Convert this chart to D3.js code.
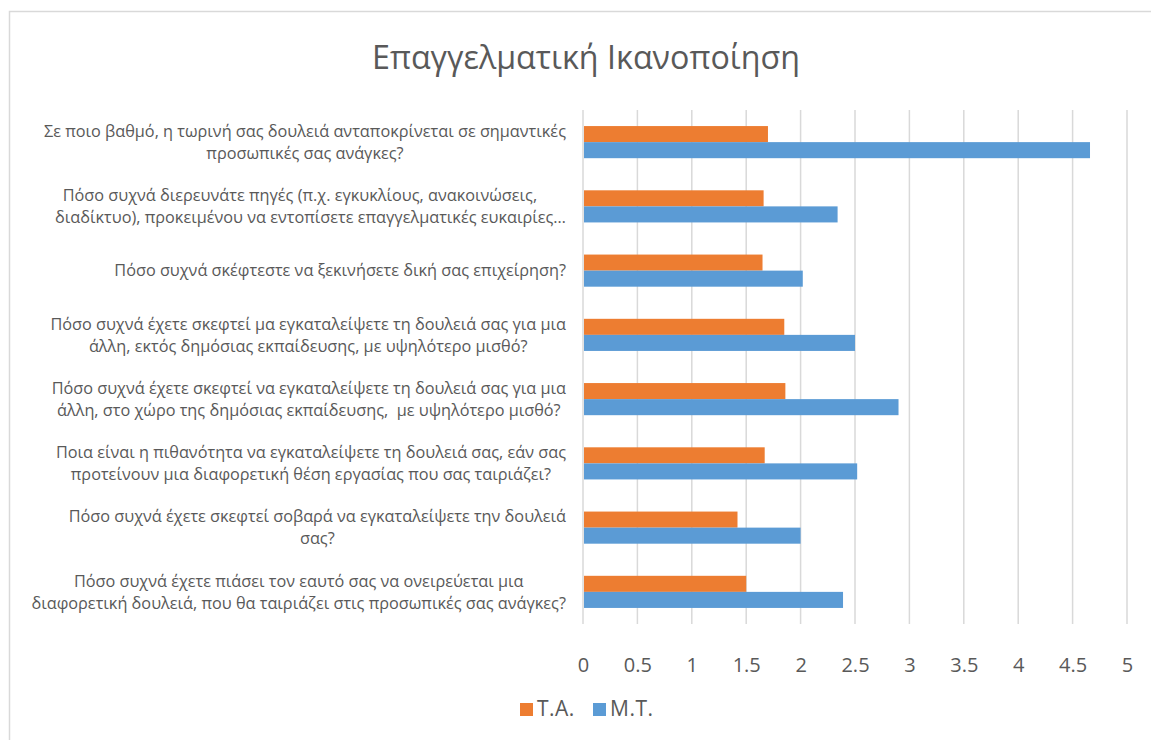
<!DOCTYPE html>
<html>
<head>
<meta charset="utf-8">
<script src="https://cdn.jsdelivr.net/npm/d3@7"></script>
<style>
  html, body { margin: 0; padding: 0; background: #fff; }
  svg { display: block; }
  text { font-family: "Open Sans", "Noto Sans", sans-serif; fill: #595959; white-space: pre; }
</style>
</head>
<body>
<svg id="chart" width="1151" height="740"></svg>
<script>
const title = "Επαγγελματική Ικανοποίηση";
const categories = [
  ["Σε ποιο βαθμό, η τωρινή σας δουλειά ανταποκρίνεται σε σημαντικές", "προσωπικές σας ανάγκες?"],
  ["Πόσο συχνά διερευνάτε πηγές (π.χ. εγκυκλίους, ανακοινώσεις,     ", "διαδίκτυο), προκειμένου να εντοπίσετε επαγγελματικές ευκαιρίες…"],
  ["Πόσο συχνά σκέφτεστε να ξεκινήσετε δική σας επιχείρηση?"],
  ["Πόσο συχνά έχετε σκεφτεί μα εγκαταλείψετε τη δουλειά σας για μια", "άλλη, εκτός δημόσιας εκπαίδευσης, με υψηλότερο μισθό?"],
  ["Πόσο συχνά έχετε σκεφτεί να εγκαταλείψετε τη δουλειά σας για μια", "άλλη, στο χώρο της δημόσιας εκπαίδευσης,  με υψηλότερο μισθό?"],
  ["Ποια είναι η πιθανότητα να εγκαταλείψετε τη δουλειά σας, εάν σας", "προτείνουν μια διαφορετική θέση εργασίας που σας ταιριάζει?"],
  ["Πόσο συχνά έχετε σκεφτεί σοβαρά να εγκαταλείψετε την δουλειά", "σας?"],
  ["Πόσο συχνά έχετε πιάσει τον εαυτό σας να ονειρεύεται μια", "διαφορετική δουλειά, που θα ταιριάζει στις προσωπικές σας ανάγκες?"]
];
const seriesNames = ["Τ.Α.", "Μ.Τ."];
const valuesTA = [1.70, 1.66, 1.65, 1.85, 1.86, 1.67, 1.42, 1.50];
const valuesMT = [4.66, 2.34, 2.02, 2.50, 2.90, 2.52, 2.00, 2.39];
const tickValues = [0, 0.5, 1, 1.5, 2, 2.5, 3, 3.5, 4, 4.5, 5];
const colors = ["#ED7D31", "#5B9BD5"];

const svg = d3.select("#chart");

// chart border
svg.append("rect")
  .attr("x", 9.5).attr("y", 11.5)
  .attr("width", 1200).attr("height", 800)
  .attr("fill", "none").attr("stroke", "#d9d9d9").attr("stroke-width", 1.5);

// title
const titleEl = svg.append("text")
  .attr("x", 586).attr("y", 69)
  .attr("text-anchor", "middle")
  .style("font-size", "30px")
  .text(title);
{
  const w = titleEl.node().getComputedTextLength();
  titleEl.style("font-size", (30 * 428 / w) + "px");
}

const x = d3.scaleLinear().domain([0, 5]).range([583, 1127]);
const idx = categories.map((d, i) => i);
const y = d3.scaleBand().domain(idx).range([110, 624]);
const barH = y.bandwidth() / 4;

// gridlines
svg.append("g").selectAll("line")
  .data(tickValues)
  .join("line")
  .attr("x1", d => x(d)).attr("x2", d => x(d))
  .attr("y1", 110).attr("y2", 624)
  .attr("stroke", "#d9d9d9").attr("stroke-width", 1.5);

// bars
const series = [valuesTA, valuesMT];
series.forEach((vals, s) => {
  svg.append("g").selectAll("rect")
    .data(vals)
    .join("rect")
    .attr("x", x(0) + 1)
    .attr("y", (d, i) => y(i) + y.bandwidth() / 2 - barH + s * barH)
    .attr("width", d => x(d) - x(0) - 1)
    .attr("height", barH)
    .attr("fill", colors[s]);
});

// x axis labels
const axis = d3.axisBottom(x).tickValues(tickValues).tickSize(0).tickPadding(0).tickFormat(d => String(d));
const axG = svg.append("g").attr("transform", "translate(0,658)").call(axis);
axG.select(".domain").remove();
axG.selectAll("text")
  .attr("dy", "0.71em").attr("y", 0)
  .style("font-size", "20px")
  .style("font-family", "\"Open Sans\", sans-serif")
  .attr("fill", "#595959");

// category labels
const labelSize = (() => {
  const t = svg.append("text").style("font-size", "15px").text(categories[2][0]);
  const w = t.node().getComputedTextLength();
  t.remove();
  return 15 * 452 / w;
})();
const rightEdge = 566;
const lineGap = 22;
categories.forEach((lines, i) => {
  const cy = y(i) + y.bandwidth() / 2;
  const g = svg.append("g");
  const texts = lines.map((ln, j) => g.append("text")
    .style("font-size", labelSize + "px")
    .attr("text-anchor", "middle")
    .attr("y", cy + (j - (lines.length - 1) / 2) * lineGap)
    .attr("dy", "0.35em")
    .text(ln));
  const maxW = d3.max(texts, t => t.node().getComputedTextLength());
  texts.forEach(t => t.attr("x", rightEdge - maxW / 2));
});

// legend
const legend = svg.append("g");
const legendX = [520, 593];
seriesNames.forEach((name, s) => {
  legend.append("rect")
    .attr("x", legendX[s]).attr("y", 703)
    .attr("width", 13).attr("height", 13)
    .attr("fill", colors[s]);
  legend.append("text")
    .attr("x", legendX[s] + 17).attr("y", 716)
    .style("font-size", "21px")
    .style("letter-spacing", "0.5px")
    .text(name);
});
</script>
</body>
</html>
